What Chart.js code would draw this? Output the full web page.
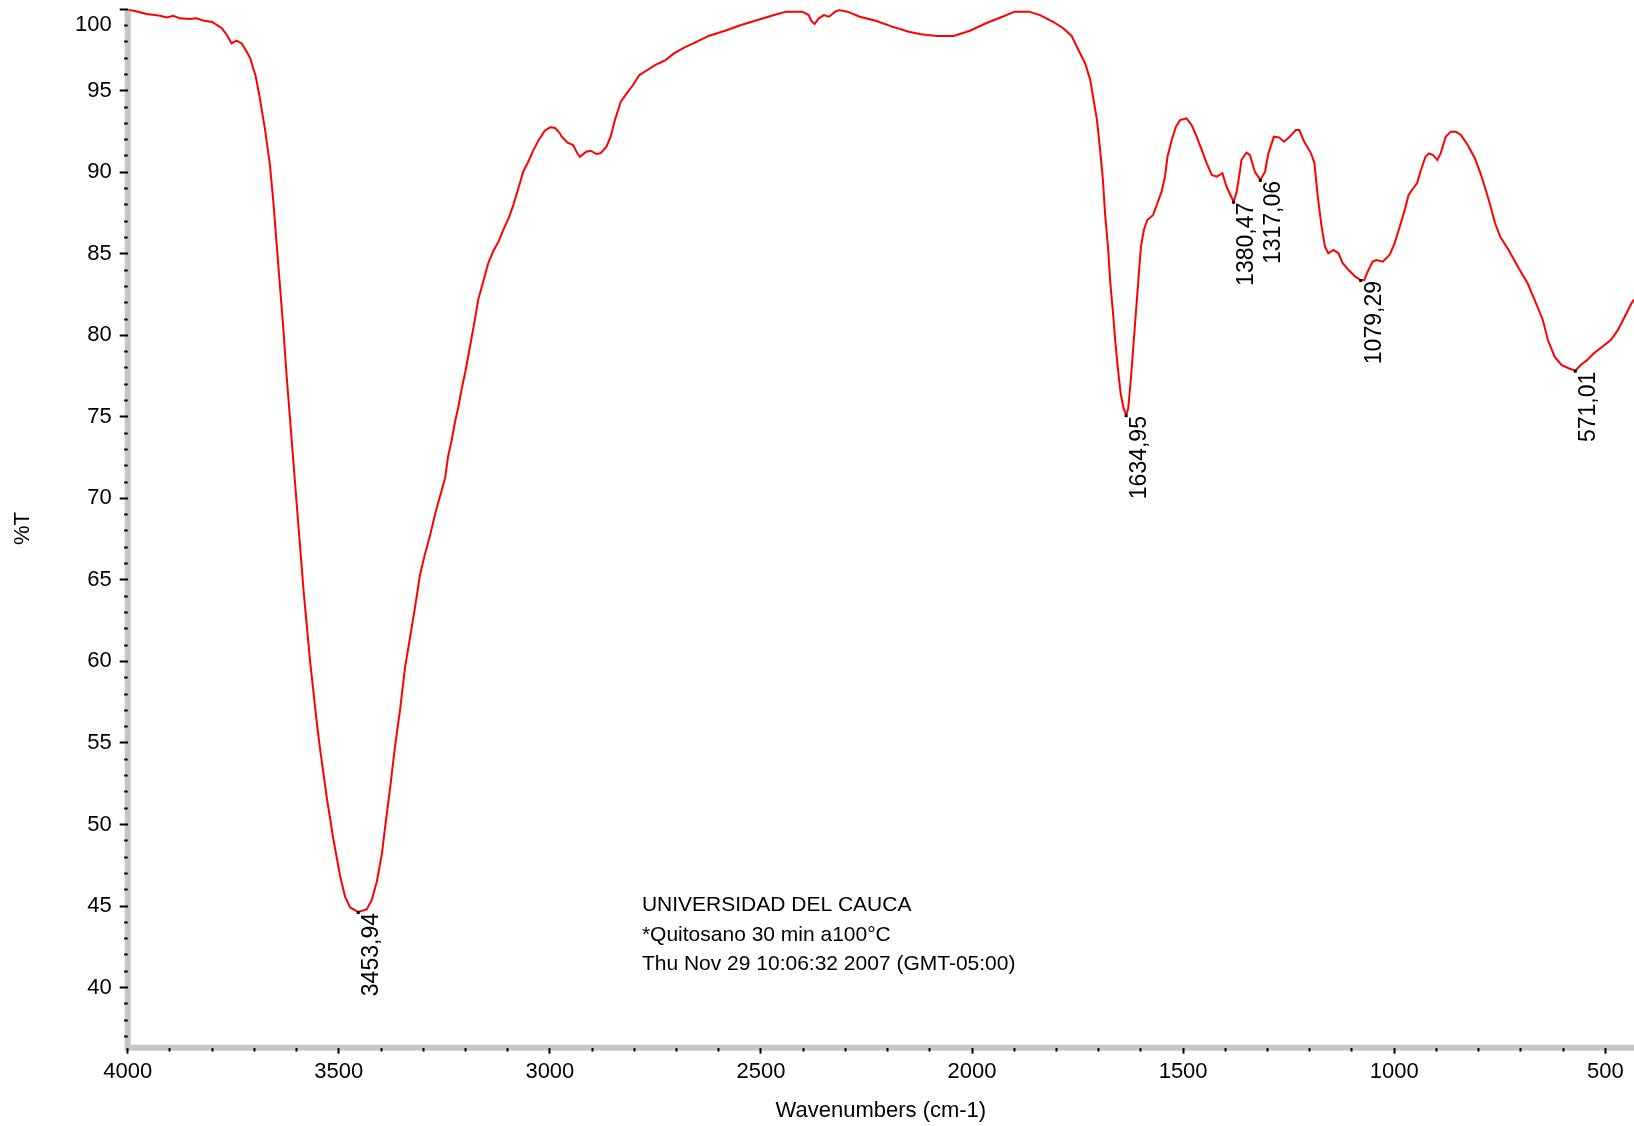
<!DOCTYPE html>
<html>
  <head>
    <script src="https://cdn.jsdelivr.net/npm/chart.js"></script>
    <style>
      body {
        margin: 0;
        background: #fff;
      }
      .wrap {
        width: 1634px;
        height: 1126px;
      }
    </style>
  </head>
  <body>
    <div class="wrap"><canvas id="irChart"></canvas></div>

    <script>
      // spectrum, high to low wavenumber
      const wavenumbers = [
        4000, 3971, 3955, 3923, 3908, 3892, 3876, 3852, 3837, 3821, 3800, 3777, 3765, 3754, 3742, 3730,
        3718, 3710, 3697, 3687, 3675, 3663, 3655, 3647, 3639, 3631, 3624, 3616, 3608, 3600, 3592, 3584,
        3576, 3568, 3560, 3552, 3545, 3537, 3529, 3521, 3513, 3505, 3497, 3485, 3473, 3453.94, 3434, 3422,
        3410, 3398, 3391, 3379, 3367, 3355, 3343, 3331, 3319, 3308, 3296, 3284, 3272, 3260, 3248, 3241,
        3233, 3225, 3217, 3209, 3201, 3193, 3185, 3177, 3170, 3158, 3146, 3134, 3122, 3110, 3097, 3087,
        3072, 3063, 3052, 3040, 3026, 3012, 3000, 2996, 2987, 2976, 2972, 2958, 2945, 2935, 2929, 2914,
        2903, 2890, 2880, 2866, 2856, 2846, 2832, 2818, 2803, 2788, 2769, 2750, 2726, 2706, 2682, 2653,
        2624, 2585, 2547, 2508, 2469, 2440, 2402, 2387, 2381, 2373, 2363, 2351, 2339, 2324, 2315, 2295,
        2266, 2228, 2189, 2150, 2121, 2083, 2044, 2005, 1967, 1928, 1899, 1865, 1839, 1808, 1784, 1764,
        1748, 1732, 1720, 1712, 1704, 1696, 1690, 1685, 1678, 1673, 1666, 1661, 1655, 1648, 1641, 1634.95,
        1630, 1624, 1618, 1612, 1606, 1600, 1593, 1585, 1571, 1561, 1551, 1543, 1537, 1527, 1517, 1507,
        1492, 1480, 1468, 1456, 1444, 1432, 1420, 1407, 1397, 1380.47, 1373, 1365, 1362, 1350, 1342, 1330,
        1317.06, 1306, 1298, 1285, 1273, 1261, 1249, 1233, 1225, 1213, 1197, 1189, 1181, 1172, 1164, 1156,
        1144, 1132, 1122, 1108, 1092, 1079.29, 1071, 1063, 1051, 1042, 1027, 1011, 999, 987, 975, 966,
        955, 946, 938, 926, 918, 908, 898, 890, 878, 866, 854, 842, 826, 809, 793, 776,
        761, 749, 729, 705, 684, 664, 648, 636, 620, 604, 587, 571.01, 558, 543, 527, 507,
        487, 470, 454, 438, 432
      ];
      const transmittance = [
        100.0, 99.81, 99.71, 99.6, 99.5, 99.6, 99.44, 99.4, 99.44, 99.3, 99.22, 98.83, 98.42, 97.9, 98.07, 97.9,
        97.39, 97.0, 95.9, 94.55, 92.68, 90.43, 88.18, 85.54, 82.91, 80.28, 77.66, 75.03, 72.4, 69.77, 67.14, 64.51,
        62.26, 60.0, 58.13, 56.25, 54.75, 53.25, 51.74, 50.43, 49.11, 47.99, 46.86, 45.55, 44.91, 44.63, 44.79, 45.36,
        46.49, 48.18, 49.68, 52.12, 54.75, 57.0, 59.63, 61.5, 63.39, 65.26, 66.58, 67.7, 69.02, 70.15, 71.27, 72.59,
        73.52, 74.65, 75.59, 76.71, 77.66, 78.78, 79.91, 81.04, 82.16, 83.29, 84.42, 85.17, 85.73, 86.48, 87.23, 87.95,
        89.25, 90.05, 90.6, 91.3, 92.0, 92.55, 92.75, 92.76, 92.7, 92.38, 92.18, 91.81, 91.67, 91.16, 90.95, 91.26,
        91.32, 91.12, 91.16, 91.57, 92.18, 93.2, 94.33, 94.84, 95.35, 95.96, 96.27, 96.58, 96.88, 97.29, 97.64, 98.0,
        98.36, 98.68, 99.03, 99.34, 99.64, 99.85, 99.85, 99.64, 99.29, 99.09, 99.44, 99.64, 99.54, 99.85, 99.95, 99.85,
        99.54, 99.29, 98.93, 98.62, 98.46, 98.36, 98.36, 98.68, 99.14, 99.54, 99.85, 99.85, 99.64, 99.23, 98.83, 98.36,
        97.5, 96.68, 95.66, 94.43, 93.2, 91.2, 89.53, 87.48, 85.43, 83.39, 81.35, 79.71, 78.08, 76.44, 75.52, 75.11,
        75.52, 77.26, 79.3, 81.35, 83.39, 85.43, 86.46, 87.07, 87.38, 88.1, 88.81, 89.73, 90.95, 91.98, 92.79, 93.2,
        93.31, 92.9, 92.18, 91.37, 90.55, 89.83, 89.73, 89.94, 89.11, 88.19, 88.81, 90.14, 90.75, 91.2, 91.06, 90.03,
        89.53, 90.03, 91.16, 92.18, 92.14, 91.87, 92.14, 92.59, 92.59, 91.87, 91.16, 90.55, 88.5, 86.66, 85.43, 85.03,
        85.23, 85.03, 84.42, 84.0, 83.6, 83.39, 83.39, 83.9, 84.52, 84.62, 84.52, 84.93, 85.64, 86.66, 87.69, 88.61,
        89.02, 89.32, 90.03, 90.95, 91.16, 91.06, 90.75, 91.16, 92.18, 92.49, 92.49, 92.29, 91.67, 90.86, 89.73, 88.3,
        86.87, 86.05, 85.23, 84.11, 83.19, 81.96, 80.94, 79.71, 78.69, 78.18, 77.98, 77.83, 78.18, 78.49, 78.9, 79.3,
        79.71, 80.33, 81.14, 81.96, 82.2
      ];

      // labelled minima
      const peakWavenumbers = [3453.94, 1634.95, 1380.47, 1317.06, 1079.29, 571.01];
      const peakTransmittance = [44.63, 75.11, 88.19, 89.53, 83.39, 77.83];

      const xTickLabels = [4000, 3500, 3000, 2500, 2000, 1500, 1000, 500];
      const yTickLabels = [40, 45, 50, 55, 60, 65, 70, 75, 80, 85, 90, 95, 100];
      const noteLines = ['UNIVERSIDAD DEL CAUCA', '*Quitosano 30 min a100°C', 'Thu Nov 29 10:06:32 2007 (GMT-05:00)'];

      const FONT = "'Liberation Sans', Arial, sans-serif";
      const AXIS_GREY = '#c6c6c6';

      // minor ticks every 100 cm-1 and every 1 %T
      const xTicks = [];
      for (let v = 4000; v >= 500; v -= 100) xTicks.push(v);
      const yTicks = [];
      for (let v = 37; v <= 100; v++) yTicks.push(v);

      const axisBands = {
        id: 'axisBands',
        beforeDraw(chart) {
          const {ctx, chartArea: a} = chart;
          ctx.save();
          ctx.fillStyle = AXIS_GREY;
          ctx.fillRect(a.left - 3, a.top, 6, a.bottom - a.top + 3);
          ctx.fillRect(a.left - 3, a.bottom - 3, a.right - a.left + 3, 6);
          ctx.restore();
        }
      };

      const annotations = {
        id: 'annotations',
        afterDatasetsDraw(chart) {
          const {ctx, scales: {x, y}} = chart;
          ctx.save();
          ctx.fillStyle = '#000';

          ctx.font = '23px ' + FONT;
          peakWavenumbers.forEach((wn, i) => {
            const px = x.getPixelForValue(wn);
            const py = y.getPixelForValue(peakTransmittance[i]);
            ctx.fillRect(px - 1.5, py - 1, 3, 3);
            ctx.save();
            ctx.translate(px + 13.5, py + 1);
            ctx.rotate(-Math.PI / 2);
            ctx.textAlign = 'right';
            ctx.textBaseline = 'middle';
            ctx.fillText(wn.toFixed(2).replace('.', ','), 0, 0);
            ctx.restore();
          });

          ctx.font = '21px ' + FONT;
          ctx.textAlign = 'left';
          ctx.textBaseline = 'middle';
          const nx = x.getPixelForValue(2782);
          const ny = y.getPixelForValue(45.03);
          noteLines.forEach((line, i) => ctx.fillText(line, nx, ny + i * 29.2));
          ctx.restore();
        }
      };

      new Chart(document.getElementById('irChart'), {
        type: 'line',
        data: {
          datasets: [{
            data: wavenumbers.map((w, i) => ({x: w, y: transmittance[i]})),
            borderColor: '#ff0000',
            borderWidth: 2,
            pointRadius: 0,
            tension: 0,
            fill: false
          }]
        },
        options: {
          responsive: true,
          maintainAspectRatio: false,
          animation: false,
          layout: { padding: { top: 9.2, left: 0, right: 0, bottom: 0 } },
          plugins: {
            legend: { display: false },
            tooltip: { enabled: false }
          },
          scales: {
            x: {
              type: 'linear',
              reverse: true,
              min: 432,
              max: 4000,
              afterBuildTicks: s => { s.ticks = xTicks.map(v => ({value: v})); },
              afterFit: s => {
                s.height = 78.3;
                s.paddingLeft = 0;
                s.paddingRight = 0;
              },
              border: { display: false },
              grid: {
                drawOnChartArea: false,
                drawTicks: true,
                tickLength: 6,
                tickWidth: 2,
                tickColor: '#000',
                tickBorderDash: c => (c.tick && xTickLabels.includes(c.tick.value)) ? [] : [3.5, 50]
              },
              ticks: {
                autoSkip: false,
                maxRotation: 0,
                padding: 5,
                color: '#000',
                font: { family: FONT, size: 22 },
                callback: v => xTickLabels.includes(v) ? String(v) : ''
              },
              title: {
                display: true,
                text: 'Wavenumbers (cm-1)',
                color: '#000',
                font: { family: FONT, size: 22 },
                padding: { top: 0, bottom: 1.8 }
              }
            },
            y: {
              min: 36.31,
              max: 100,
              afterBuildTicks: s => { s.ticks = yTicks.map(v => ({value: v})); },
              afterFit: s => {
                s.width = 127.7;
                s.paddingTop = 0;
                s.paddingBottom = 0;
              },
              border: { display: false },
              grid: {
                drawOnChartArea: false,
                drawTicks: true,
                tickLength: 8,
                tickWidth: 2,
                tickColor: '#000',
                tickBorderDash: c => (c.tick && yTickLabels.includes(c.tick.value)) ? [] : [0, 4.5, 3.5, 50]
              },
              ticks: {
                autoSkip: false,
                padding: 8,
                color: '#000',
                font: { family: FONT, size: 22, lineHeight: 1.4 },
                // top label sits just under the frame, as in the original print
                callback: v => v === 100 ? ['', '100'] : (yTickLabels.includes(v) ? String(v) : '')
              },
              title: {
                display: true,
                text: '%T',
                color: '#000',
                font: { family: FONT, size: 22 },
                padding: { top: 10, bottom: 0 }
              }
            }
          }
        },
        plugins: [axisBands, annotations]
      });
    </script>
  </body>
</html>
